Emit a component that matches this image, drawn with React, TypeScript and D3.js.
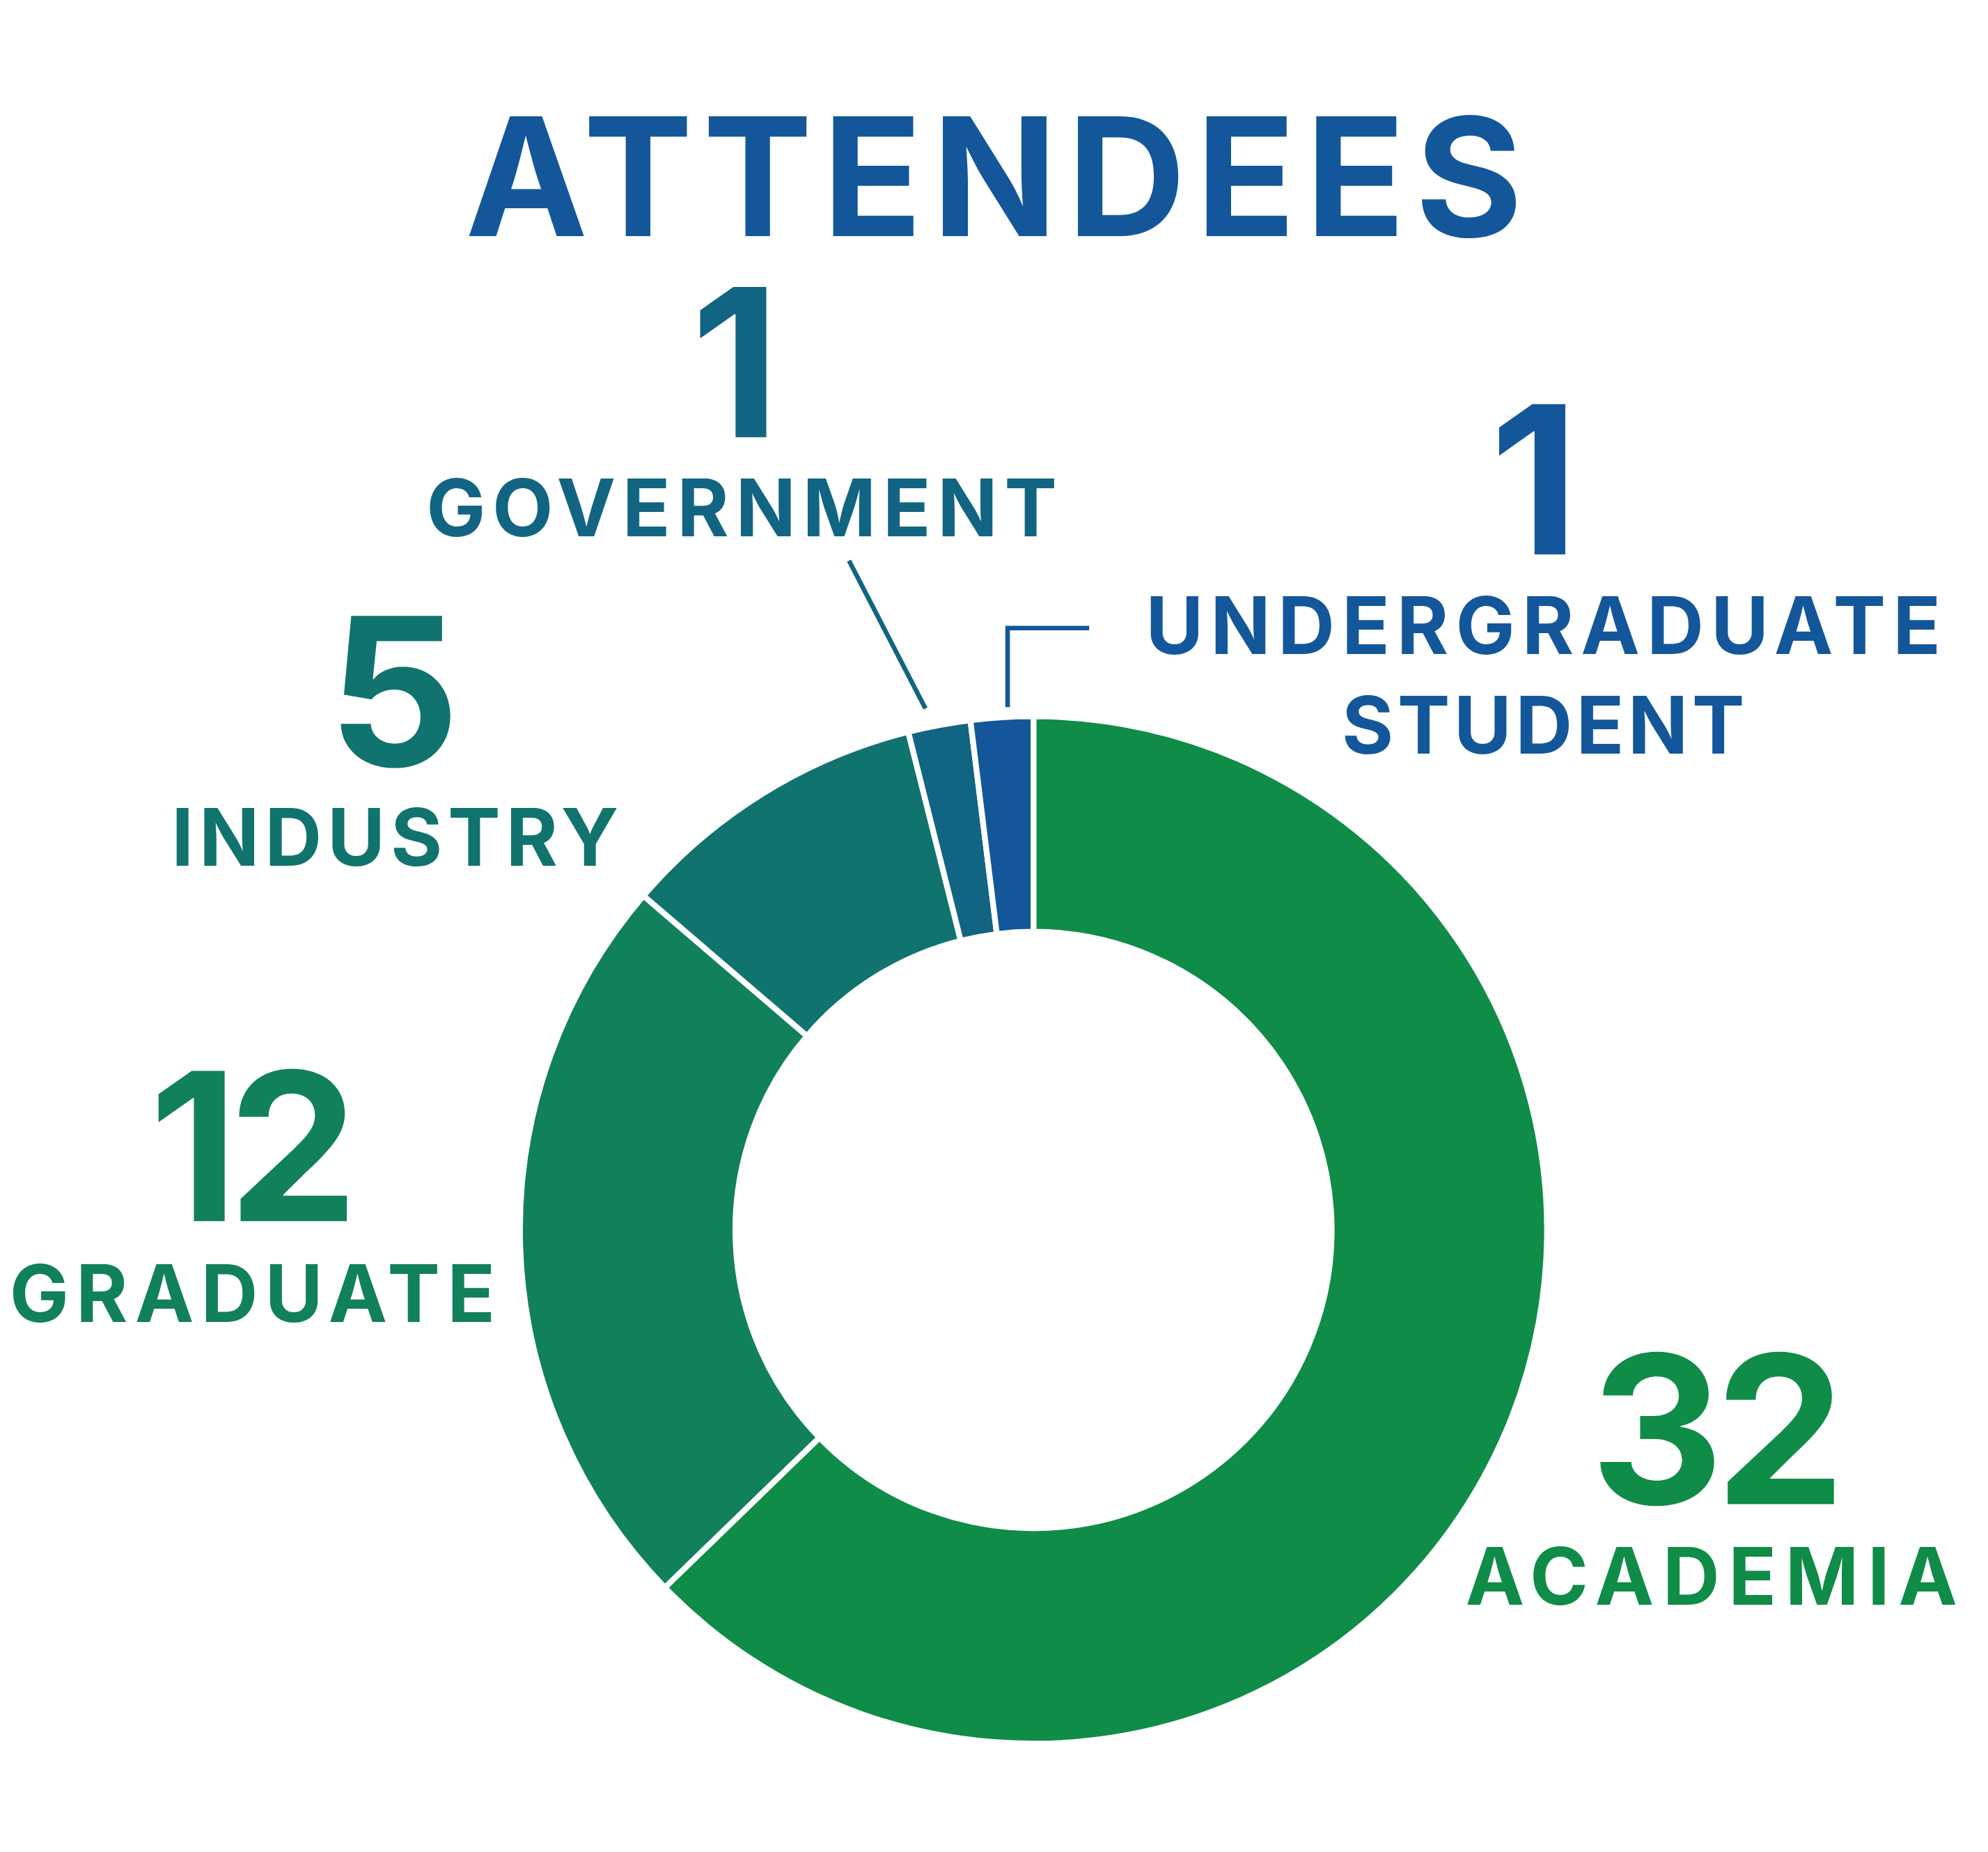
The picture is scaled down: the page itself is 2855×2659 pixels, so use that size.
import * as d3 from "d3"

// attendee counts, clockwise from 12 o'clock
const categories = ["ACADEMIA", "GRADUATE", "INDUSTRY", "GOVERNMENT", "UNDERGRADUATE STUDENT"]
const counts = [32, 12, 5, 1, 1]
const colors = ["#0f8c47", "#11805c", "#11736e", "#126582", "#13579a"]

const title = "ATTENDEES"
const titleColor = "#13579a"

// label layout (viewBox units), one entry per category
const labelLayout = [
  { numX: 1348, numY: 1180, numLen: 200, labelX: 1343, lines: [{ y: 1259, len: 386 }] },
  { numX: 199, numY: 958, numLen: 164, labelX: 198, lines: [{ y: 1037, len: 381 }] },
  { numX: 309, numY: 601, numLen: 0, labelX: 310, lines: [{ y: 679, len: 351 }] },
  { numX: 577, numY: 343, numLen: 0, labelX: 582, lines: [{ y: 421, len: 495 }] },
  { numX: 1204, numY: 435, numLen: 0, labelX: 1211, lines: [{ y: 513, len: 624 }, { y: 591, len: 316 }] },
]

const W = 1560
const H = 1453
const FONT = "Inter, 'Noto Sans', sans-serif"

export default function App() {
  const cx = 811
  const cy = 965
  const outerR = 403
  const innerR = 234

  const pie = d3.pie<number>().sort(null).value((d) => d)
  const arcs = pie(counts)
  const arc = d3.arc<d3.PieArcDatum<number>>().innerRadius(innerR).outerRadius(outerR)

  // leader lines for the two thin slices, starting just outside the ring
  const govMid = (arcs[3].startAngle + arcs[3].endAngle) / 2
  const govStart = [cx + (outerR + 4) * Math.sin(govMid) - 10, cy - (outerR + 4) * Math.cos(govMid) - 9]
  const ugMid = (arcs[4].startAngle + arcs[4].endAngle) / 2
  const ugStart = [cx + (outerR + 8) * Math.sin(ugMid) + 5, cy - (outerR + 8) * Math.cos(ugMid)]

  return (
    <svg
      width={2855}
      height={2659}
      viewBox={`0 0 ${W} ${H}`}
      style={{ position: "absolute", left: 0, top: 0, background: "#fff" }}
    >
      <text
        x={780}
        y={185}
        textAnchor="middle"
        fontFamily={FONT}
        fontWeight={700}
        fontSize={129}
        fill={titleColor}
        textLength={830}
        lengthAdjust="spacing"
      >
        {title}
      </text>

      <g transform={`translate(${cx},${cy})`}>
        {arcs.map((a, i) => (
          <path key={categories[i]} d={arc(a) || ""} fill={colors[i]} stroke="#fff" strokeWidth={4.5} strokeLinejoin="miter" />
        ))}
      </g>

      {/* leader lines */}
      <line
        x1={govStart[0]}
        y1={govStart[1]}
        x2={govStart[0] - 60}
        y2={govStart[1] - 116}
        stroke={colors[3]}
        strokeWidth={3.6}
      />
      <polyline
        points={`${ugStart[0]},${ugStart[1]} ${ugStart[0]},${ugStart[1] - 62} ${ugStart[0] + 64},${ugStart[1] - 62}`}
        fill="none"
        stroke={colors[4]}
        strokeWidth={3.6}
      />

      {categories.map((c, i) => {
        const l = labelLayout[i]
        const words = i === 4 ? ["UNDERGRADUATE", "STUDENT"] : [c]
        return (
          <text key={c} fill={colors[i]} fontFamily={FONT} fontWeight={700} textAnchor="middle">
            <tspan
              x={l.numX}
              y={l.numY}
              fontSize={162}
              {...(l.numLen ? { textLength: l.numLen, lengthAdjust: "spacing" } : {})}
            >
              {counts[i]}
            </tspan>
            {words.map((w, j) => (
              <tspan key={w} x={l.labelX} y={l.lines[j].y} fontSize={62} textLength={l.lines[j].len} lengthAdjust="spacing">
                {w}
              </tspan>
            ))}
          </text>
        )
      })}
    </svg>
  )
}
